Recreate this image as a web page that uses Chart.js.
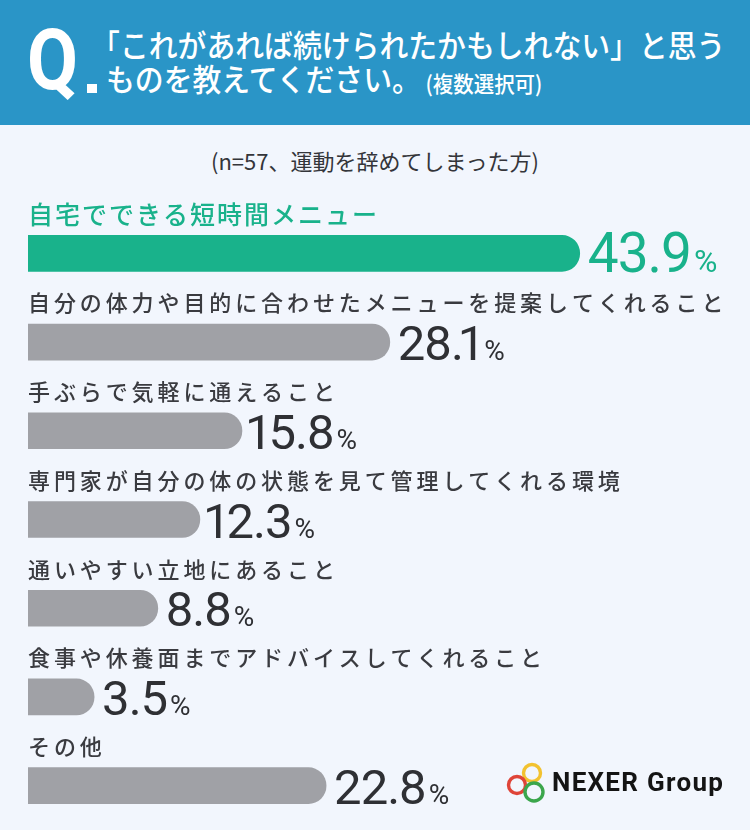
<!DOCTYPE html>
<html>
<head>
<meta charset="utf-8">
<script src="https://cdn.jsdelivr.net/npm/chart.js@4"></script>
<style>
  html, body { margin: 0; padding: 0; }
  body { width: 750px; height: 830px; background: #f2f6fd; position: relative; overflow: hidden; font-family: "Noto Sans CJK JP", sans-serif; }
  #header { position: absolute; left: 0; top: 0; width: 750px; height: 125px; background: #2a95c7; color: #fff; }
  #q { position: absolute; left: 27px; top: 17px; font-family: Roboto, sans-serif; font-weight: 700; font-size: 86px; line-height: 86px; transform: scaleX(0.86); transform-origin: left top; }
  #qdot { position: absolute; left: 87px; top: 84px; width: 10px; height: 9px; background: #fff; }
  .tline { position: absolute; left: 106px; white-space: nowrap; font-size: 31px; font-weight: 500; transform: scaleX(0.93); transform-origin: left center; line-height: 40px; }
  #l1 { top: 24px; }
  #l2 { top: 58px; }
  #l2 small { font-size: 22px; font-weight: 500; margin-left: 5px; position: relative; top: 1px; }
  #sub { position: absolute; left: 0; width: 750px; top: 145px; text-align: center; font-size: 22px; color: #34353a; line-height: 30px; }
  #chart { position: absolute; left: 0; top: 0; }
  #logo { position: absolute; left: 506px; top: 761px; width: 230px; height: 44px; }
  #logo span { position: absolute; left: 46px; top: 6px; font-family: Roboto, sans-serif; font-weight: 700; font-size: 26px; letter-spacing: 1.3px; color: #141414; line-height: 30px; }
</style>
</head>
<body>
<div id="header">
  <div id="q">Q</div>
  <div id="qdot"></div>
  <div class="tline" id="l1"><span style="margin-left:-16px">「</span>これがあれば続けられたかもしれない」と思う</div>
  <div class="tline" id="l2">ものを教えてください。<small>(複数選択可)</small></div>
</div>
<div id="sub">(n=57、運動を辞めてしまった方)</div>
<canvas id="chart" width="750" height="830"></canvas>
<div id="logo">
  <svg width="46" height="44" viewBox="0 0 46 44" style="position:absolute;left:0;top:0">
    <circle cx="26" cy="12" r="8.5" fill="none" stroke="#f2c230" stroke-width="3.4"/>
    <circle cx="11" cy="24" r="8.5" fill="none" stroke="#df4438" stroke-width="3.4"/>
    <circle cx="28" cy="31" r="9" fill="none" stroke="#3ba64c" stroke-width="3.4"/>
  </svg>
  <span>NEXER Group</span>
</div>
<script>
const categories = [
  "自宅でできる短時間メニュー",
  "自分の体力や目的に合わせたメニューを提案してくれること",
  "手ぶらで気軽に通えること",
  "専門家が自分の体の状態を見て管理してくれる環境",
  "通いやすい立地にあること",
  "食事や休養面までアドバイスしてくれること",
  "その他"
];
const values = [43.9, 28.1, 15.8, 12.3, 8.8, 3.5, 22.8];
const unit = "%";

const GREEN = "#19b28b";
const GRAY = "#a0a1a6";
const TEXT = "#3a3b40";
const NUM = "#2f3034";

// draws digits with a narrow (proportional) "1"
function drawNumber(ctx, str, x, y) {
  for (const ch of str) {
    const w = ctx.measureText(ch).width;
    if (ch === "1") {
      ctx.fillText(ch, x - 5, y);
      x += w - 9;
    } else {
      ctx.fillText(ch, x, y);
      x += w - 1;
    }
  }
  return x;
}

const labelPlugin = {
  id: "barLabels",
  afterDatasetsDraw(chart) {
    const ctx = chart.ctx;
    const meta = chart.getDatasetMeta(0);
    const left = chart.chartArea.left;
    meta.data.forEach((bar, i) => {
      const top = i === 0;
      ctx.save();
      ctx.textAlign = "left";
      ctx.textBaseline = "middle";
      ctx.fillStyle = top ? GREEN : TEXT;
      ctx.font = (top ? "500 25px" : "500 22px") + ' "Noto Sans CJK JP"';
      ctx.letterSpacing = top ? "2px" : "3.9px";
      ctx.fillText(categories[i], left, bar.y - 39);

      const num = values[i].toFixed(1);
      ctx.textBaseline = "alphabetic";
      ctx.fillStyle = top ? GREEN : NUM;
      ctx.letterSpacing = "0px";
      ctx.font = (top ? "400 55px" : "400 49px") + " Roboto";
      const bx = bar.x + 8;
      const by = bar.y + (top ? 19 : 18);
      const end = drawNumber(ctx, num, bx, by);
      ctx.font = (top ? "400 32px" : "400 28px") + " Roboto";
      ctx.fillText(unit, end + 3, by);
      ctx.restore();
    });
  }
};

new Chart(document.getElementById("chart"), {
  type: "bar",
  data: {
    labels: categories,
    datasets: [{
      data: values,
      base: -2,
      backgroundColor: values.map((v, i) => i === 0 ? GREEN : GRAY),
      borderRadius: 18,
      borderSkipped: "start",
      barThickness: 36
    }]
  },
  options: {
    indexAxis: "y",
    responsive: false,
    animation: false,
    devicePixelRatio: 1,
    layout: { padding: { left: 28, right: 2, top: 209, bottom: 0 } },
    scales: {
      x: { display: false, min: -2, max: 57.9 },
      y: { display: false }
    },
    plugins: {
      legend: { display: false },
      tooltip: { enabled: false },
      title: { display: false }
    }
  },
  plugins: [labelPlugin]
});
</script>
</body>
</html>
